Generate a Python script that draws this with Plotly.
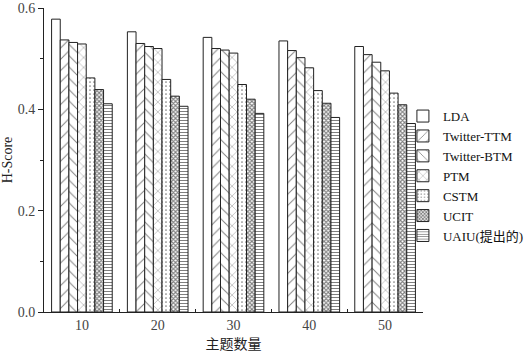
import plotly.graph_objects as go

categories = ["10", "20", "30", "40", "50"]
series_names = ["LDA", "Twitter-TTM", "Twitter-BTM", "PTM", "CSTM", "UCIT", "UAIU(提出的)"]
lda = [0.578, 0.553, 0.542, 0.535, 0.524]
ttm = [0.537, 0.530, 0.520, 0.516, 0.508]
btm = [0.532, 0.524, 0.517, 0.502, 0.493]
ptm = [0.529, 0.520, 0.511, 0.482, 0.476]
cstm = [0.462, 0.459, 0.449, 0.437, 0.432]
ucit = [0.439, 0.426, 0.420, 0.412, 0.409]
uaiu = [0.411, 0.406, 0.392, 0.384, 0.372]
series_values = [lda, ttm, btm, ptm, cstm, ucit, uaiu]

patterns = [
    dict(shape=""),
    dict(shape="/", size=8, solidity=0.12, fgcolor="#000"),
    dict(shape="\\", size=8, solidity=0.12, fgcolor="#000"),
    dict(shape="x", size=7, solidity=0.12, fgcolor="#000"),
    dict(shape=".", size=4, solidity=0.15, fgcolor="#000"),
    dict(shape="x", size=3, solidity=0.6, fgcolor="#000"),
    dict(shape="-", size=3, solidity=0.35, fgcolor="#000"),
]

FONT = "Liberation Serif, Times New Roman, Noto Sans CJK SC, serif"

fig = go.Figure()
for name, vals, pat in zip(series_names, series_values, patterns):
    fig.add_trace(go.Bar(
        x=categories, y=vals, name=name,
        marker=dict(color="white", line=dict(color="#222", width=1), pattern=pat),
    ))

fig.update_layout(
    width=526, height=354,
    margin=dict(l=44, r=103, t=8, b=42, autoexpand=False),
    paper_bgcolor="white", plot_bgcolor="white",
    barmode="group", bargap=0.2, bargroupgap=0,
    font=dict(family=FONT, size=13, color="#222"),
    legend=dict(x=0.947, y=0.447, xanchor="left", yanchor="middle",
                font=dict(size=13, family=FONT, color="#111"), bgcolor="rgba(0,0,0,0)",
                itemwidth=30, tracegroupgap=0),
    showlegend=True,
)
fig.update_xaxes(
    type="category", showline=True, linecolor="#222", linewidth=1,
    ticks="inside", tickson="boundaries", ticklen=3, tickcolor="#222",
    showgrid=False, zeroline=False,
    title=dict(text="主题数量", font=dict(size=14, family="Noto Sans CJK SC, serif", color="#222"), standoff=4),
    tickfont=dict(size=14, color="#444"),
)
fig.update_yaxes(
    range=[0, 0.6], tickvals=[0, 0.2, 0.4, 0.6], tickformat=".1f",
    showline=True, linecolor="#222", linewidth=1,
    ticks="outside", ticklen=5, tickcolor="#222",
    minor=dict(tickvals=[0.1, 0.3, 0.5], ticks="outside", ticklen=3, tickcolor="#222"),
    showgrid=False, zeroline=False,
    title=dict(text="H-Score", font=dict(size=14, color="#222"), standoff=8),
    tickfont=dict(size=14, color="#444"),
)

fig.write_html("out.html")
